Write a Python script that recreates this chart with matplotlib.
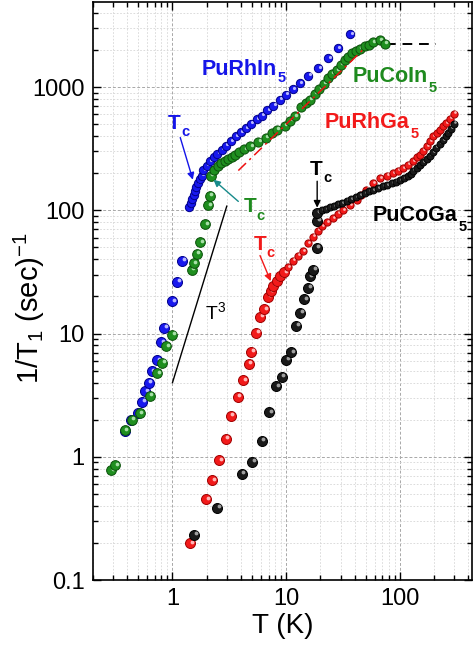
import matplotlib
matplotlib.use("Agg")
import matplotlib.pyplot as plt
import numpy as np
from matplotlib.ticker import FuncFormatter, LogLocator, NullFormatter
from matplotlib.transforms import ScaledTranslation

plt.rcParams["font.family"] = ["Liberation Sans", "DejaVu Sans"]
plt.rcParams["mathtext.fontset"] = "custom"
plt.rcParams["mathtext.rm"] = "Liberation Sans"
plt.rcParams["mathtext.bf"] = "Liberation Sans:bold"
plt.rcParams["mathtext.it"] = "Liberation Sans:italic"

# PuRhIn5
rhin_T = [0.379, 0.434, 0.493, 0.539, 0.576, 0.616, 0.659, 0.730, 0.791, 0.846, 0.99, 1.10, 1.22,
          1.41, 1.45, 1.49, 1.53, 1.57, 1.61, 1.67, 1.73, 1.80, 1.87, 2.00, 2.14, 2.32, 2.48, 2.71,
          2.96, 3.25, 3.62, 3.98, 4.43, 4.87, 5.50, 6.08, 6.81, 7.69, 8.81, 9.94, 11.5, 13.2, 15.6,
          19.1, 23.4, 28.6, 36.7]
rhin_R = [1.63, 1.98, 2.27, 2.79, 3.40, 3.98, 4.94, 6.07, 8.5, 11.1, 18.3, 26.2, 39.1,
          106.6, 115, 124, 134, 144, 155, 165, 178, 191, 211, 230, 250, 271, 288, 311,
          335, 363, 398, 429, 466, 505, 551, 586, 647, 707, 790, 868, 966, 1080, 1237,
          1428, 1722, 2075, 2697]

# PuCoIn5
coin_T = [0.290, 0.314, 0.379, 0.440, 0.514, 0.629, 0.730, 0.812, 0.881, 0.99, 1.47, 1.54, 1.64,
          1.76, 1.94, 2.05, 2.13, 2.17, 2.32, 2.49, 2.67, 2.87, 3.08, 3.31, 3.55, 3.85, 4.26, 4.81,
          5.65, 6.64, 7.50, 8.28, 9.75, 10.8, 11.9, 13.6, 14.9, 16.1, 17.9, 19.5, 21.4, 23.4, 25.2,
          27.7, 30.2, 32.7, 35.0, 37.5, 40.8, 44.3, 49.0, 53.1, 57.9, 66.3, 73.4]
coin_R = [0.774, 0.850, 1.64, 2.00, 2.26, 3.14, 4.74, 5.78, 7.89, 9.72, 32.9, 37.1, 44.2,
          55.0, 76.9, 110, 131, 191, 214, 228, 241, 253, 263, 273, 283, 299, 314, 332,
          361, 389, 427, 451, 487, 534, 581, 693, 747, 790, 885, 966, 1067, 1186, 1285,
          1366, 1520, 1668, 1765, 1891, 1973, 2037, 2138, 2208, 2307, 2395, 2249]

# PuRhGa5
rhga_T = [1.43, 1.98, 2.23, 2.57, 2.94, 3.25, 3.75, 4.20, 4.68, 4.93, 5.42, 5.88, 6.37, 6.95, 7.29,
          7.69, 8.24, 8.81, 9.55, 10.4, 11.5, 12.7, 14.1, 15.6, 17.3, 19.0, 20.6, 22.8, 25.8, 28.4,
          31.6, 36.2, 41.5, 45.2, 50.7, 57.6, 66.4, 76.4, 86.8, 95.4, 106, 117, 130, 140, 149,
          160, 171, 182, 195, 210, 223, 238, 255, 273, 296]
rhga_R = [0.198, 0.451, 0.643, 0.933, 1.40, 2.16, 3.07, 4.18, 5.71, 7.11, 10.1, 13.6, 15.7, 19.8, 22.0,
          24.5, 26.9, 29.2, 31.4, 34.7, 39.1, 42.9, 46.5, 54.4, 61.2, 68.4, 74.1, 80.2, 86.7, 94.0,
          101, 111, 122, 134, 147, 165, 183, 191, 201, 210, 221, 235, 250, 268, 283,
          305, 330, 364, 398, 427, 451, 482, 512, 554, 608]

# PuCoGa5
coga_T = [1.55, 2.48, 4.05, 5.03, 6.08, 7.09, 8.12, 9.12, 9.94, 11.1, 12.2, 13.2, 14.3, 15.6, 16.1,
          17.3, 18.5, 18.6, 18.7, 20.5, 22.3, 24.2, 26.2, 28.4, 30.8, 33.9, 37.0, 40.9, 44.3, 49.0,
          53.1, 58.0, 63.7, 70.5, 76.4, 84.6, 91.6, 99.3, 108, 117, 124, 130, 140, 149, 159,
          171, 182, 194, 208, 223, 238, 252, 264, 279, 296]
coga_R = [0.234, 0.386, 0.726, 0.908, 1.34, 2.29, 3.74, 4.45, 6.15, 7.05, 11.5, 14.7, 18.9, 23.5, 29.2,
          33.0, 49.6, 82.5, 95.8, 100, 103, 106, 109, 112, 115, 120, 123, 127, 132, 137,
          142, 147, 151, 156, 160, 166, 171, 177, 184, 191, 198, 210, 222, 235, 248,
          263, 278, 299, 323, 348, 374, 403, 427, 460, 505]

# guide lines
t3_T = [1.0, 3.0]
t3_R = [4.0, 108.0]
korr_T = [3.79, 47.4]
korr_R = [210.0, 2010.0]
flat_T = [75.0, 208.0]
flat_R = [2250.0, 2250.0]

BLUE = "#1515e8"
GREEN = "#1e8a1e"
RED = "#f21a1a"


def draw_balls(ax, fig, T, R, face, edge, shine, big, small, cut):
    for t, r in zip(T, R):
        ms = big if t < cut else small
        ax.plot(t, r, "o", ms=ms, mfc=face, mec=edge, mew=0.7, zorder=3)
        off = ScaledTranslation(ms * 0.16 / 72, ms * 0.16 / 72, fig.dpi_scale_trans)
        ax.plot(t, r, "o", ms=ms * 0.38, mfc=shine, mec="none", zorder=3,
                transform=ax.transData + off)


def sub_label(ax, x, y, main, sub, color, size, sub_size, drop):
    # main text sits on its baseline, the subscript hangs below it
    t = ax.text(x, y, main, color=color, fontsize=size, fontweight="bold",
                ha="left", va="baseline", zorder=5)
    ax.annotate(sub, xy=(1, 0), xycoords=t, xytext=(0.5, -(drop - 0.212 * size)),
                textcoords="offset points", color=color, fontsize=sub_size,
                fontweight="bold", ha="left", va="baseline", zorder=5)


fig = plt.figure(figsize=(4.73, 6.49), dpi=100)
ax = fig.add_axes([0.1966, 0.1063, 0.8014, 0.8907])
ax.set_xscale("log")
ax.set_yscale("log")
ax.set_xlim(0.2, 430)
ax.set_ylim(0.1, 4900)

ax.grid(True, which="major", color="#a8a8a8", linestyle=(0, (3, 2)), linewidth=0.7, zorder=0)
ax.grid(True, which="minor", color="#d6d6d6", linestyle=(0, (2, 2)), linewidth=0.6, zorder=0)
ax.set_axisbelow(True)

draw_balls(ax, fig, rhin_T, rhin_R, "#1818ee", "#00008a", "#b8b8ff", 7.2, 6.0, 1.4)
draw_balls(ax, fig, coin_T, coin_R, "#1f8f1f", "#0a500a", "#a8e0a8", 7.0, 6.6, 2.2)
draw_balls(ax, fig, rhga_T, rhga_R, "#f21a1a", "#a00000", "#ffb8b8", 7.2, 5.2, 10.0)
draw_balls(ax, fig, coga_T, coga_R, "#1a1a1a", "#000000", "#a0a0a0", 7.2, 5.0, 19.0)

ax.plot(t3_T, t3_R, color="black", lw=1.0, zorder=2)
ax.plot(korr_T, korr_R, color="#ee1111", lw=1.1, linestyle=(0, (7, 3, 1.5, 3)), zorder=4)
ax.plot(flat_T, flat_R, color="black", lw=1.4, linestyle=(0, (5, 3.5)), zorder=2)

sub_label(ax, 1.82, 1262, "PuRhIn", "5", BLUE, 15.5, 10.5, 5.0)
sub_label(ax, 38.5, 1106, "PuCoIn", "5", GREEN, 15.5, 10.5, 7.0)
sub_label(ax, 21.9, 469, "PuRhGa", "5", RED, 15.5, 10.5, 7.0)
sub_label(ax, 57.6, 81.4, "PuCoGa", "5", "black", 15.5, 10.5, 7.0)
ax.text(1.94, 14.8, r"T$^\mathrm{3}$", color="black", fontsize=14, ha="left", va="center")

arrow = dict(arrowstyle="-|>", lw=1.0, mutation_scale=10, shrinkA=0, shrinkB=0)
sub_label(ax, 0.917, 456, "T", "c", BLUE, 15, 10.5, 5.5)
ax.annotate("", xy=(1.51, 177), xytext=(1.17, 389),
            arrowprops=dict(arrow, color=BLUE))
sub_label(ax, 4.2, 96.3, "T", "c", GREEN, 15, 10.5, 6.0)
ax.annotate("", xy=(2.29, 177), xytext=(3.79, 118),
            arrowprops=dict(arrow, color="#178a8a"))
sub_label(ax, 5.14, 48.0, "T", "c", RED, 15, 10.5, 6.0)
ax.annotate("", xy=(7.3, 26.6), xytext=(5.88, 42.9),
            arrowprops=dict(arrow, color=RED))
sub_label(ax, 16.1, 195, "T", "c", "black", 15, 10.5, 5.5)
ax.annotate("", xy=(18.7, 105), xytext=(18.7, 172),
            arrowprops=dict(arrow, color="black"))

fmt = FuncFormatter(lambda v, _: f"{v:g}")
ax.xaxis.set_major_formatter(fmt)
ax.yaxis.set_major_formatter(fmt)
ax.xaxis.set_minor_locator(LogLocator(base=10, subs=np.arange(2, 10), numticks=20))
ax.yaxis.set_minor_locator(LogLocator(base=10, subs=np.arange(2, 10), numticks=20))
ax.xaxis.set_minor_formatter(NullFormatter())
ax.yaxis.set_minor_formatter(NullFormatter())
ax.tick_params(which="both", direction="in", top=True, right=True, width=1.0)
ax.tick_params(which="major", length=6, labelsize=17, pad=6)
ax.tick_params(which="minor", length=3.5)
for sp in ax.spines.values():
    sp.set_linewidth(1.2)

ax.set_xlabel("T (K)", fontsize=20, labelpad=2)
ax.set_ylabel(r"1/T$_\mathrm{1}$ (sec)$^\mathrm{-1}$", fontsize=21)
ax.yaxis.set_label_coords(-0.122, 0.47)

fig.savefig("out.png", dpi=100)
